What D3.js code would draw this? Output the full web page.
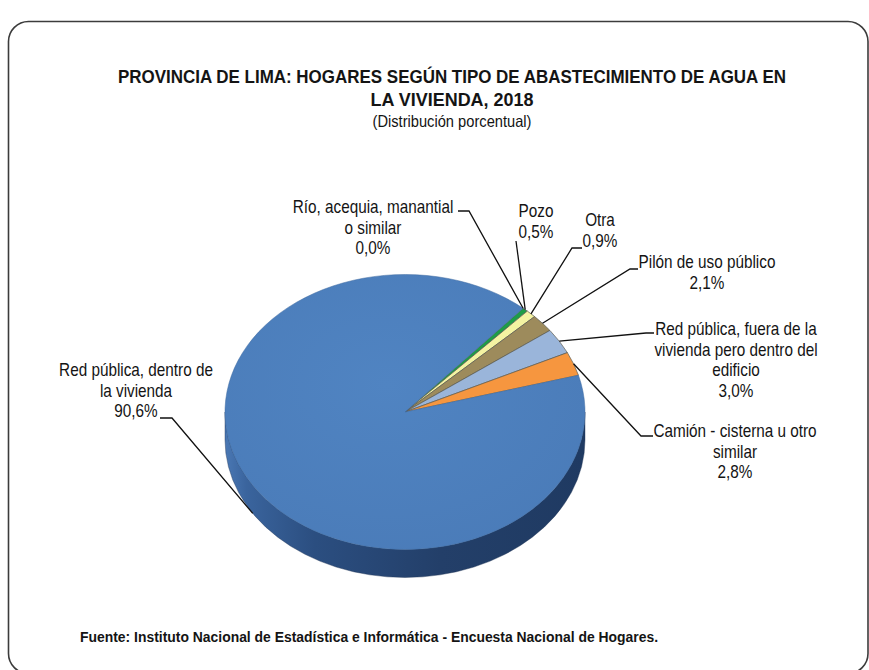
<!DOCTYPE html>
<html>
<head>
<meta charset="utf-8">
<script src="https://cdn.jsdelivr.net/npm/d3@7"></script>
<style>
  html, body { margin: 0; padding: 0; background: #ffffff; }
  svg { display: block; }
  text { font-family: "Liberation Sans", Arial, sans-serif; fill: #141414; }
</style>
</head>
<body>
<svg id="chart" width="869" height="670"></svg>
<script>
// ---------------- DATA ----------------
const categories = [
  "Río, acequia, manantial o similar",
  "Pozo",
  "Otra",
  "Pilón de uso público",
  "Red pública, fuera de la vivienda pero dentro del edificio",
  "Camión - cisterna u otro similar",
  "Red pública, dentro de la vivienda"
];
const labelLines = [
  ["Río, acequia, manantial", "o similar"],
  ["Pozo"],
  ["Otra"],
  ["Pilón de uso público"],
  ["Red pública, fuera de la", "vivienda pero dentro del", "edificio"],
  ["Camión - cisterna u otro", "similar"],
  ["Red pública, dentro de", "la vivienda"]
];
const values = [0.0, 0.5, 0.9, 2.1, 3.0, 2.8, 90.6];
const sliceColorList = ["#1e9c48", "#1e9c48", "#f4f3a2", "#9d8b5c", "#9ab5da", "#f6963f", "#4f7fbd"];

const titleLines = [
  "PROVINCIA DE LIMA: HOGARES SEGÚN TIPO DE ABASTECIMIENTO DE AGUA EN",
  "LA VIVIENDA, 2018"
];
const subtitle = "(Distribución porcentual)";
const source = "Fuente: Instituto Nacional de Estadística e Informática - Encuesta Nacional de Hogares.";

// ---------------- LAYOUT ----------------
const W = 869, H = 670;
const cx = 405, cy = 412, rx = 180, ry = 137.5, depth = 28;
const startDeg = 41;
const lineGap = 20.7;
const labelFont = 18, labelScale = 0.85;
// label anchor (centre x, first baseline) and leader polyline points (text side first)
const labelLayout = [
  { x: 373, y: 213, leader: [[458, 211], [469, 211]] },
  { x: 536, y: 217, leader: [[516, 241]] },
  { x: 600, y: 226, leader: [[582, 248], [572, 248]] },
  { x: 707, y: 268, leader: [[638, 269], [630, 269]] },
  { x: 736, y: 335, leader: [[654, 333], [646, 333]] },
  { x: 735, y: 437, leader: [[653, 436], [641, 436]] },
  { x: 136, y: 376, leader: [[160, 418], [172, 418]] }
];

const svg = d3.select("#chart");
const defs = svg.append("defs");

const sideGrad = defs.append("linearGradient").attr("id", "sideGrad")
  .attr("x1", "0").attr("x2", "1").attr("y1", "0").attr("y2", "0");
[["0%", "#4a78b4"], ["6%", "#3a649d"], ["25%", "#2b4e80"], ["60%", "#233f69"], ["100%", "#1f3a62"]]
  .forEach(([o, c]) => sideGrad.append("stop").attr("offset", o).attr("stop-color", c));

const topGrad = defs.append("radialGradient").attr("id", "topGrad")
  .attr("cx", "0.45").attr("cy", "0.4").attr("r", "0.7");
[["0%", "#5084c2"], ["100%", "#4a7bb8"]]
  .forEach(([o, c]) => topGrad.append("stop").attr("offset", o).attr("stop-color", c));

// frame
svg.append("rect")
  .attr("x", 8.5).attr("y", 21.5).attr("width", 859.5).attr("height", 652)
  .attr("rx", 20).attr("ry", 20)
  .attr("fill", "#ffffff").attr("stroke", "#3c3c3c").attr("stroke-width", 1.6);

// titles
const titleG = svg.append("g");
titleG.append("text").attr("x", 452).attr("y", 83).attr("text-anchor", "middle")
  .attr("font-weight", "bold").attr("font-size", 19)
  .attr("textLength", 668).attr("lengthAdjust", "spacingAndGlyphs")
  .text(titleLines[0]);
titleG.append("text").attr("x", 452).attr("y", 106).attr("text-anchor", "middle")
  .attr("font-weight", "bold").attr("font-size", 19)
  .attr("textLength", 163).attr("lengthAdjust", "spacingAndGlyphs")
  .text(titleLines[1]);
titleG.append("text").attr("x", 452).attr("y", 127).attr("text-anchor", "middle")
  .attr("font-size", 16.5)
  .attr("textLength", 159).attr("lengthAdjust", "spacingAndGlyphs")
  .text(subtitle);

// source
svg.append("text").attr("x", 80).attr("y", 642)
  .attr("font-weight", "bold").attr("font-size", 14.5)
  .attr("textLength", 578).attr("lengthAdjust", "spacingAndGlyphs")
  .text(source);

// ---------------- PIE ----------------
const toRad = d => d * Math.PI / 180;
const pie = d3.pie().sort(null).value(d => d)
  .startAngle(toRad(startDeg)).endAngle(toRad(startDeg) + 2 * Math.PI);
const arcs = pie(values);

const P = (a, dz = 0) => [cx + rx * Math.sin(a), cy - ry * Math.cos(a) + dz];

// side wall (front half only)
const sideG = svg.append("g");
arcs.forEach((d, i) => {
  [0, 2 * Math.PI].forEach(off => {
    const s = Math.max(d.startAngle, Math.PI / 2 + off);
    const e = Math.min(d.endAngle, 3 * Math.PI / 2 + off);
    if (e <= s) return;
    const p0 = P(s), p1 = P(e), p2 = P(e, depth), p3 = P(s, depth);
    const large = (e - s) > Math.PI ? 1 : 0;
    const path = `M${p0}A${rx},${ry} 0 ${large} 1 ${p1}L${p2}A${rx},${ry} 0 ${large} 0 ${p3}Z`;
    sideG.append("path").attr("d", path)
      .attr("fill", i === arcs.length - 1 ? "url(#sideGrad)" : d3.color(sliceColorList[i]).darker(1.2))
      .attr("stroke", "#1c3152").attr("stroke-width", 0.4);
  });
});

// top faces
const topG = svg.append("g");
arcs.forEach((d, i) => {
  if (d.endAngle - d.startAngle <= 1e-6) return;
  const p0 = P(d.startAngle), p1 = P(d.endAngle);
  const large = (d.endAngle - d.startAngle) > Math.PI ? 1 : 0;
  const path = `M${cx},${cy}L${p0}A${rx},${ry} 0 ${large} 1 ${p1}Z`;
  topG.append("path").attr("d", path)
    .attr("fill", i === arcs.length - 1 ? "url(#topGrad)" : sliceColorList[i])
    .attr("stroke", i === arcs.length - 1 ? "#3f6aa0" : "#5a5a50")
    .attr("stroke-width", i === arcs.length - 1 ? 0.5 : 0.7)
    .attr("stroke-linejoin", "round");
});

// ---------------- LABELS ----------------
const fmt = d3.formatLocale({ decimal: ",", thousands: ".", grouping: [3], currency: ["", ""] }).format(".1f");
const labG = svg.append("g");
arcs.forEach((d, i) => {
  const lay = labelLayout[i];
  const mid = (d.startAngle + d.endAngle) / 2;
  const front = Math.cos(mid) < 0;
  const rim = P(mid, front ? depth : 0);
  const pts = lay.leader.concat([rim]);
  labG.append("path")
    .attr("d", d3.line()(pts))
    .attr("fill", "none").attr("stroke", "#111").attr("stroke-width", 1.3);
  const lines = labelLines[i].concat([fmt(values[i]) + "%"]);
  lines.forEach((t, k) => {
    labG.append("text")
      .attr("transform", `translate(${lay.x},${lay.y + k * lineGap}) scale(${labelScale},1)`)
      .attr("text-anchor", "middle")
      .attr("font-size", labelFont)
      .text(t);
  });
});
</script>
</body>
</html>
